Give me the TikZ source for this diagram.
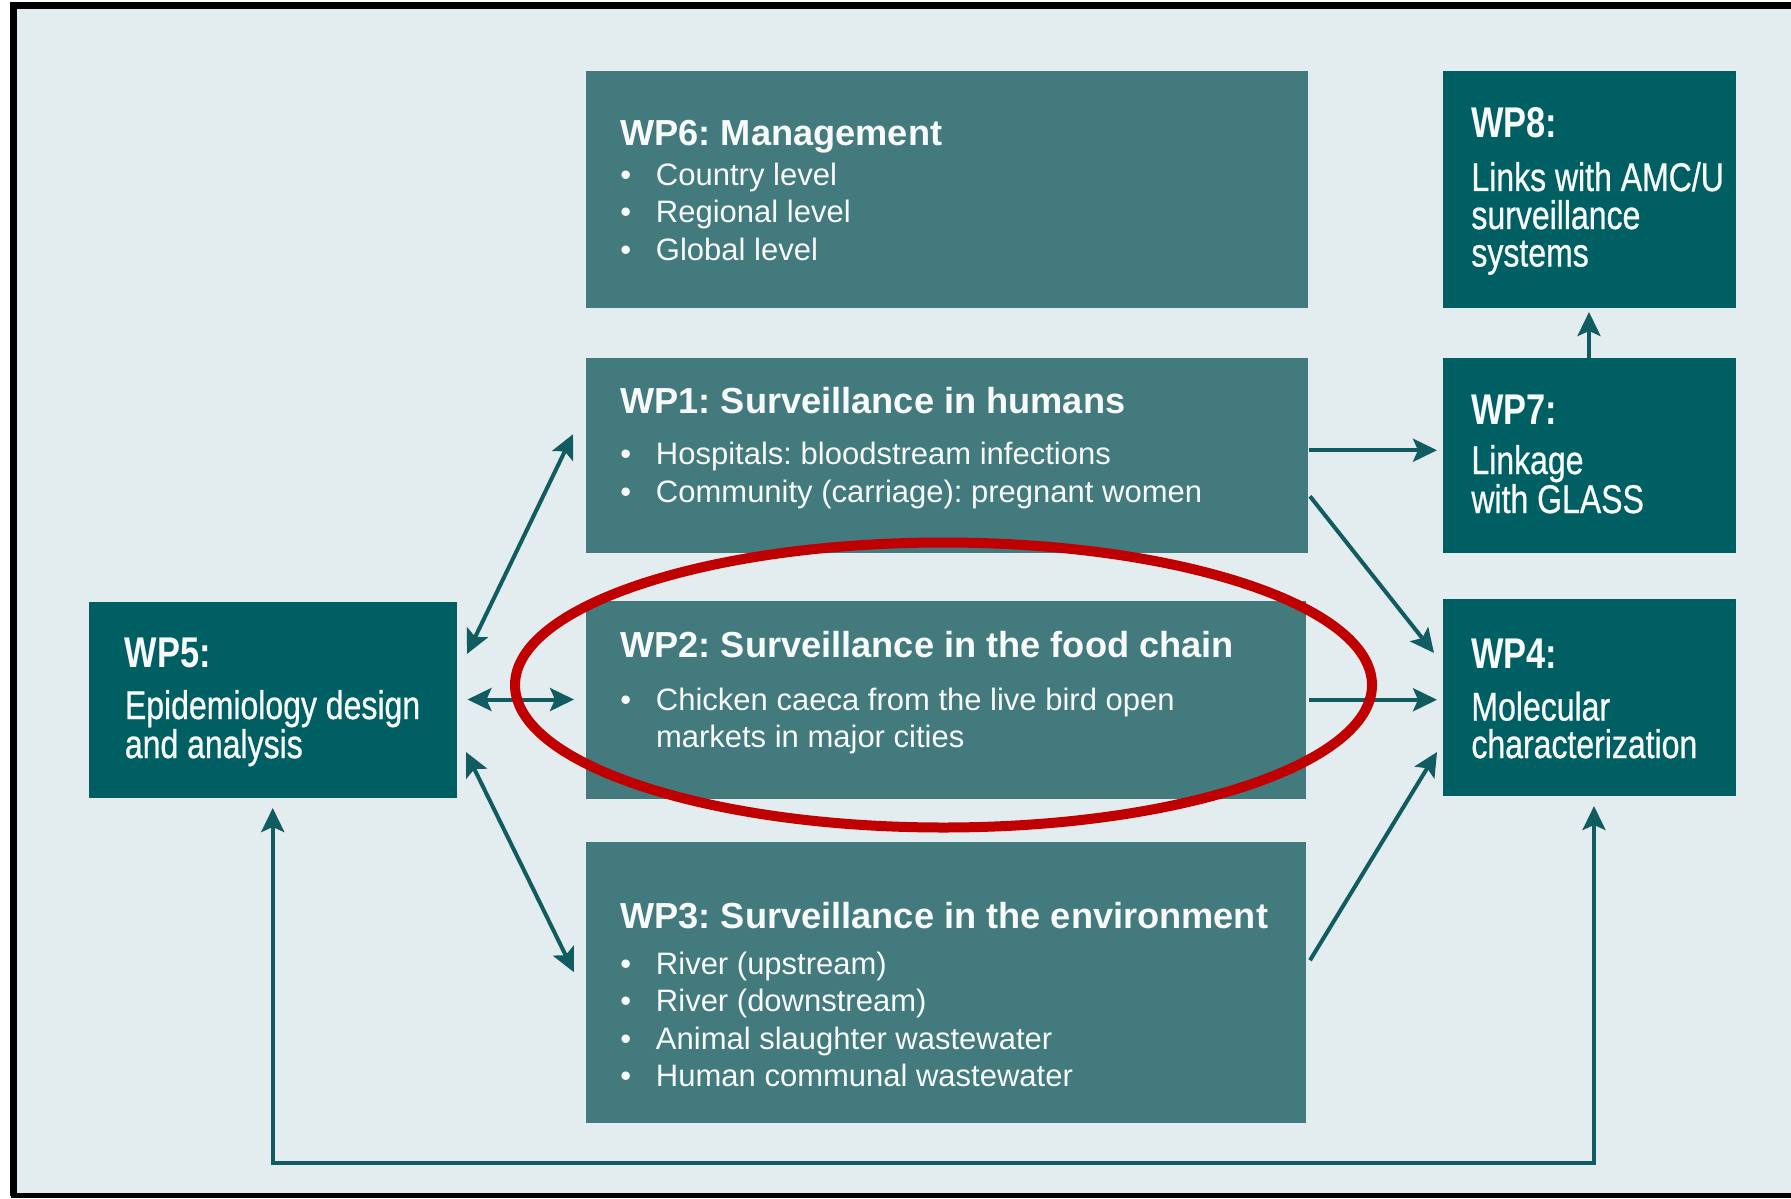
\documentclass[tikz,border=0pt]{standalone}
\usepackage{fontspec}
\setmainfont{Liberation Sans}
\newfontfamily\condfont[FakeStretch=0.8]{Liberation Sans}
\newfontfamily\condtext[FakeStretch=0.8,FakeBold=0.7]{Liberation Sans}
\usetikzlibrary{arrows.meta,calc}

\definecolor{bgpanel}{RGB}{227,236,238}
\definecolor{midteal}{RGB}{66,122,125}
\definecolor{darkteal}{RGB}{0,95,98}
\definecolor{arrowteal}{RGB}{16,92,96}
\definecolor{ringred}{RGB}{192,0,0}
\definecolor{txtwhite}{RGB}{248,250,250}

% bullet followed by the item text at a fixed indent
\newcommand\bl[1]{\makebox[17.8pt][l]{\textbullet}#1}

\tikzset{
  pane/.style={rectangle, inner sep=0pt, outer sep=0pt, draw=none, fill=midteal},
  darkpane/.style={rectangle, inner sep=0pt, outer sep=0pt, draw=none, fill=darkteal},
  ttl/.style={anchor=base west, inner sep=0pt, text=txtwhite,
    font=\bfseries\fontsize{18.1pt}{21pt}\selectfont},
  itm/.style={anchor=base west, inner sep=0pt, text=txtwhite,
    font=\fontsize{15.5pt}{18pt}\selectfont},
  clab/.style={anchor=base west, inner sep=0pt, text=txtwhite,
    font=\condfont\bfseries\fontsize{21.5pt}{24pt}\selectfont},
  ctxt/.style={anchor=base west, inner sep=0pt, text=txtwhite,
    font=\condtext\fontsize{20pt}{23pt}\selectfont},
  tip/.tip={Stealth[length=12pt,width=11.5pt,inset=2.5pt]},
  link/.style={draw=arrowteal, line width=2pt, -tip},
  twoway/.style={draw=arrowteal, line width=2pt, tip-tip},
}

\begin{document}
\frenchspacing
\begin{tikzpicture}[x=0.5pt, y=-0.5pt]
  \useasboundingbox (0,0) rectangle (1791,1198);
  \fill[white] (0,0) rectangle (1791,1198);
  \fill[bgpanel] (13,6) rectangle (1800,1195.5);
  \draw[black, line width=3.5pt] (1800,6) -- (13,6) -- (13,1195.5);
  \draw[black, line width=2.6pt] (11,1195.5) -- (1800,1195.5);

  % work package panels
  \node[pane, minimum width=361pt, minimum height=118.5pt] (wp6) at (947,189.5) {};
  \node[pane, minimum width=361pt, minimum height=97.75pt] (wp1) at (947,455.25) {};
  \node[pane, minimum width=360pt, minimum height=99.25pt] (wp2) at (946,699.75) {};
  \node[pane, minimum width=360pt, minimum height=140.75pt] (wp3) at (946,982.25) {};
  \node[darkpane, minimum width=183.75pt, minimum height=98pt] (wp5) at (272.75,699.5) {};
  \node[darkpane, minimum width=146.5pt, minimum height=118.5pt] (wp8) at (1589,189.5) {};
  \node[darkpane, minimum width=146.5pt, minimum height=97.75pt] (wp7) at (1589,455.25) {};
  \node[darkpane, minimum width=146.5pt, minimum height=98.5pt] (wp4) at (1589,697) {};

  % WP6
  \node[ttl] (t6) at (620,146) {WP6: Management};
  \node[itm] (t6a) at (620,185) {\bl{Country level}};
  \node[itm] (t6b) at (620,222.5) {\bl{Regional level}};
  \node[itm] (t6c) at (620,260) {\bl{Global level}};

  % WP1
  \node[ttl] (t1) at (620,413.5) {WP1: Surveillance in humans};
  \node[itm] (t1a) at (620,464.5) {\bl{Hospitals: bloodstream infections}};
  \node[itm] (t1b) at (620,502) {\bl{Community (carriage): pregnant women}};

  % WP2
  \node[ttl] (t2) at (620,657) {WP2: Surveillance in the food chain};
  \node[itm] (t2a) at (620,710) {\bl{Chicken caeca from the live bird open}};
  \node[itm] (t2b) at (655.6,747.5) {markets in major cities};

  % WP3
  \node[ttl] (t3) at (620,928.5) {WP3: Surveillance in the environment};
  \node[itm] (t3a) at (620,974) {\bl{River (upstream)}};
  \node[itm] (t3b) at (620,1011.5) {\bl{River (downstream)}};
  \node[itm] (t3c) at (620,1049) {\bl{Animal slaughter wastewater}};
  \node[itm] (t3d) at (620,1086) {\bl{Human communal wastewater}};

  % WP5
  \node[clab] (t5) at (124.5,667) {WP5:};
  \node[ctxt] (t5a) at (124.5,719) {Epidemiology design};
  \node[ctxt] (t5b) at (124.5,758) {and analysis};

  % WP8
  \node[clab] (t8) at (1471,138) {WP8:};
  \node[ctxt] (t8a) at (1471,191) {Links with AMC/U};
  \node[ctxt] (t8b) at (1471,229) {surveillance};
  \node[ctxt] (t8c) at (1471,266.5) {systems};

  % WP7
  \node[clab] (t7) at (1471,424) {WP7:};
  \node[ctxt] (t7a) at (1471,474) {Linkage};
  \node[ctxt] (t7b) at (1471,513) {with GLASS};

  % WP4
  \node[clab] (t4) at (1471,668) {WP4:};
  \node[ctxt] (t4a) at (1471,720.5) {Molecular};
  \node[ctxt] (t4b) at (1471,758) {characterization};

  % connectors around WP5
  \draw[twoway] ($(wp5.east)+(10.5,-45.5)$) -- ($(wp1.west)+(-13,-21)$);
  \draw[twoway, shorten <=5.5pt, shorten >=6pt] (wp5.east) -- (wp5.east -| wp2.west);
  \draw[twoway] ($(wp5.east)+(9.5,52.5)$) -- ($(wp3.west)+(-12,-10)$);

  % connectors into WP7, WP8 and WP4
  \draw[link] ($(wp1.east)+(1,-5)$) -- ($(wp7.west)+(-5.5,-5)$);
  \draw[link, shorten >=2pt] (wp7.north) -- (wp8.south);
  \draw[link] ($(wp1.east)+(2,41)$) -- ($(wp4.west)+(-8.5,-44)$);
  \draw[link] ($(wp2.east)+(3,0)$) -- ($(wp2.east -| wp4.west)+(-5.5,0)$);
  \draw[link] ($(wp3.east)+(4,-22)$) -- ($(wp4.west)+(-5.5,55)$);

  % feedback loop between WP4 and WP5
  \coordinate (loopy) at (0,1162.5);
  \coordinate (wp4foot) at ($(wp4.south)+(5,0)$);
  \draw[twoway, shorten <=5.25pt, shorten >=5.25pt]
    (wp4foot) -- (wp4foot |- loopy) -| (wp5.south);

  % highlight ring around WP2
  \draw[ringred, line width=5pt] (943.5,685) ellipse [x radius=214.25pt, y radius=71.25pt];
\end{tikzpicture}
\end{document}
